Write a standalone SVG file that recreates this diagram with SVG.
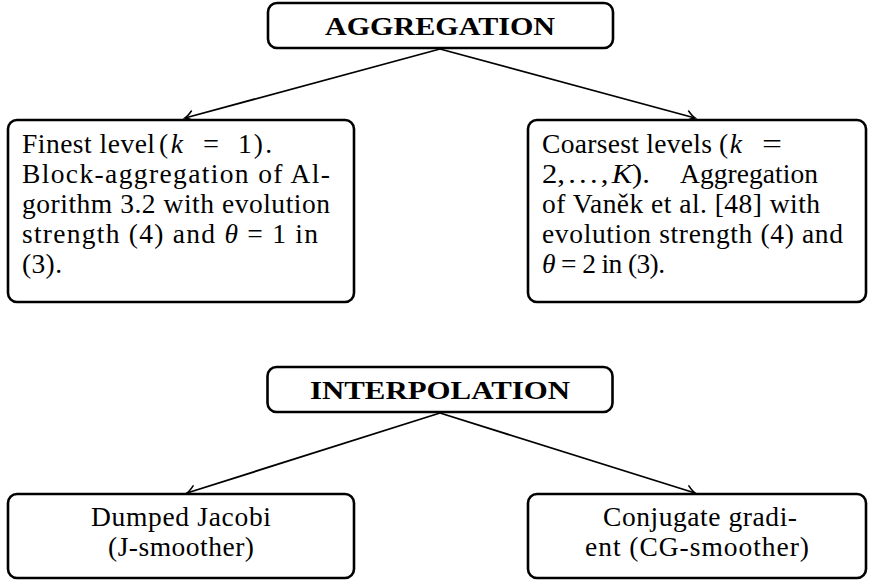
<svg xmlns="http://www.w3.org/2000/svg" width="869" height="581" viewBox="0 0 869 581">
<style>
  .box { fill: #ffffff; stroke: #000000; stroke-width: 2.6; }
  text { font-family: "Liberation Serif", "DejaVu Serif", serif; font-size: 27.5px; fill: #000000; }
  .b { font-weight: bold; font-size: 26px; }
  .i { font-style: italic; }
  .edge { stroke: #000000; stroke-width: 1.8; fill: none; }
</style>
<defs>
  <marker id="arr" markerUnits="userSpaceOnUse" markerWidth="16" markerHeight="16" refX="0" refY="0" viewBox="-10 -8 12 16" orient="auto">
    <path d="M -8 -5 Q -3 -1 0 0 Q -3 1 -8 5" fill="none" stroke="#000" stroke-width="1.6" stroke-linecap="round"/>
  </marker>
</defs>
<rect width="869" height="581" fill="#ffffff"/>

<g id="connectors">
  <line class="edge" x1="440" y1="49" x2="185" y2="118" marker-end="url(#arr)"/>
  <line class="edge" x1="440" y1="49" x2="695" y2="118" marker-end="url(#arr)"/>
  <line class="edge" x1="440" y1="413" x2="187" y2="493" marker-end="url(#arr)"/>
  <line class="edge" x1="440" y1="413" x2="695" y2="493" marker-end="url(#arr)"/>
</g>

<g id="aggregation">
  <rect class="box" x="268" y="3" width="345" height="45" rx="9"/>
  <text class="b" x="440" y="35" text-anchor="middle" textLength="230" lengthAdjust="spacingAndGlyphs">AGGREGATION</text>
</g>

<g id="finest">
  <rect class="box" x="8" y="120" width="346" height="182" rx="9"/>
  <text x="22" y="153" textLength="133" lengthAdjust="spacing">Finest level</text>
  <text x="159" y="153" textLength="24" lengthAdjust="spacing">(<tspan class="i">k</tspan></text>
  <text x="203" y="153" textLength="16" lengthAdjust="spacingAndGlyphs">=</text>
  <text x="238" y="153" textLength="34" lengthAdjust="spacing">1).</text>
  <text x="22" y="183" textLength="308" lengthAdjust="spacing">Block-aggregation of Al-</text>
  <text x="22" y="213" textLength="308" lengthAdjust="spacing">gorithm 3.2 with evolution</text>
  <text x="22" y="243" textLength="296" lengthAdjust="spacing">strength (4) and <tspan class="i">θ</tspan> = 1 in</text>
  <text x="22" y="273" textLength="40" lengthAdjust="spacing">(3).</text>
</g>

<g id="coarsest">
  <rect class="box" x="528" y="120" width="338" height="182" rx="9"/>
  <text x="542" y="153" textLength="170" lengthAdjust="spacing">Coarsest levels</text>
  <text x="719" y="153" textLength="23" lengthAdjust="spacing">(<tspan class="i">k</tspan></text>
  <text x="762" y="153" textLength="20" lengthAdjust="spacingAndGlyphs">=</text>
  <text x="542" y="183" word-spacing="-4" textLength="108" lengthAdjust="spacingAndGlyphs">2, . . . , <tspan class="i">K</tspan>).</text>
  <text x="680" y="183" textLength="138" lengthAdjust="spacing">Aggregation</text>
  <text x="542" y="213" textLength="278" lengthAdjust="spacing">of Vaněk et al. [48] with</text>
  <text x="542" y="243" textLength="301" lengthAdjust="spacing">evolution strength (4) and</text>
  <text x="542" y="273" textLength="123" lengthAdjust="spacing"><tspan class="i">θ</tspan> = 2 in (3).</text>
</g>

<g id="interpolation">
  <rect class="box" x="267.5" y="367" width="345" height="45" rx="9"/>
  <text class="b" x="440" y="399" text-anchor="middle" textLength="260" lengthAdjust="spacingAndGlyphs">INTERPOLATION</text>
</g>

<g id="jacobi">
  <rect class="box" x="8" y="494" width="346" height="84" rx="9"/>
  <text x="181" y="526" text-anchor="middle" textLength="180" lengthAdjust="spacing">Dumped Jacobi</text>
  <text x="181" y="556" text-anchor="middle" textLength="146" lengthAdjust="spacing">(J-smoother)</text>
</g>

<g id="cg">
  <rect class="box" x="528" y="494" width="338" height="84" rx="9"/>
  <text x="700" y="526" text-anchor="middle" textLength="194" lengthAdjust="spacing">Conjugate gradi-</text>
  <text x="697" y="556" text-anchor="middle" textLength="224" lengthAdjust="spacing">ent (CG-smoother)</text>
</g>
</svg>
